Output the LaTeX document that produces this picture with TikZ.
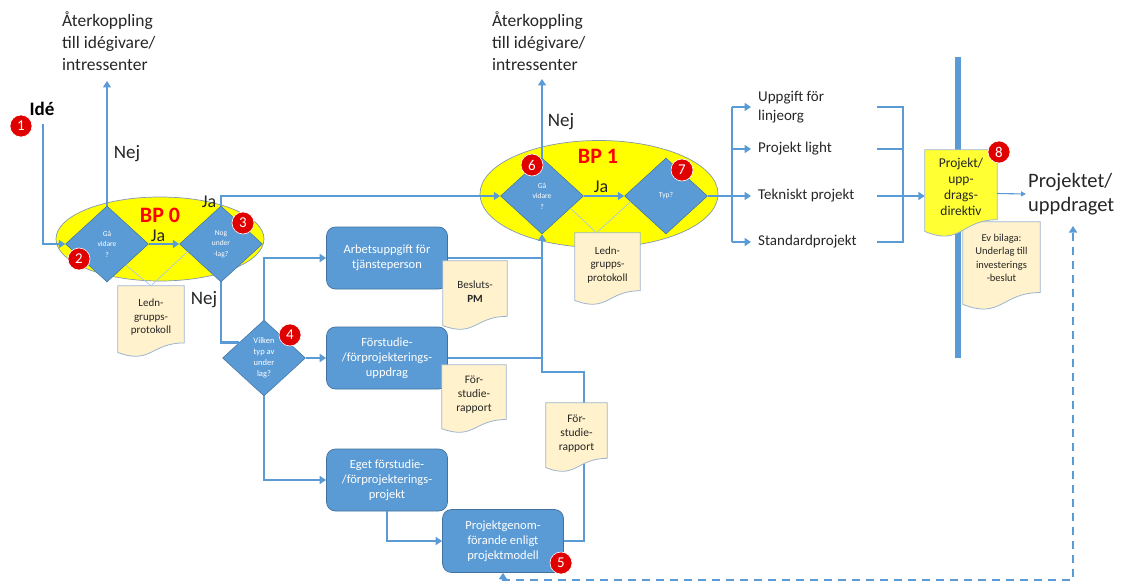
\documentclass[tikz,border=0pt]{standalone}
\usepackage{fontspec}
\setmainfont{Carlito}
\usetikzlibrary{arrows.meta,shapes.geometric,calc}

\definecolor{flow}{HTML}{5B9BD5}
\definecolor{flowdark}{HTML}{41719C}
\definecolor{paper}{HTML}{FFF2CC}
\definecolor{paperline}{HTML}{9DB4CF}
\definecolor{bpyellow}{HTML}{FFFF00}
\definecolor{bpline}{HTML}{8497B0}
\definecolor{marker}{HTML}{E00000}
\definecolor{faintblue}{HTML}{A9C8E8}
\definecolor{ink}{HTML}{262626}
\definecolor{dirfill}{HTML}{FFFF33}

\newcommand\fs[2]{\fontsize{#1}{#2}\selectfont}

% document symbol with a wavy lower edge
% #1 name, #2 x, #3 y, #4 width, #5 height, #6 fill, #7 font, #8 text, #9 text lift
\newcommand\paperdoc[9]{%
  \node[inner sep=0pt, minimum width=#4pt, minimum height=#5pt] (#1) at (#2,#3) {};
  \path[draw=paperline, fill=#6, line width=0.8pt]
    let \p1=(#1.north west), \p2=(#1.south east) in
    (\p1) -- (\x2,\y1) -- (\x2,{\y1+0.8*(\y2-\y1)})
    .. controls ({0.5*(\x1+\x2)},{\y1+0.8*(\y2-\y1)}) and ({0.5*(\x1+\x2)},{\y1+1.107*(\y2-\y1)})
    .. (\x1,{\y1+0.934*(\y2-\y1)}) -- cycle;
  \node[align=center, text=ink, inner sep=0pt, font=#7] at ([yshift=#9pt]#1.center) {#8};
}

\tikzset{
  conn/.style={draw=flow, line width=2.8pt},
  arr/.style={conn, -{Triangle[width=8pt,length=6.5pt]}},
  thinarr/.style={draw=flow, line width=1.1pt, -{Triangle[width=5pt,length=5pt]}},
  backarr/.style={conn, dash pattern=on 8pt off 6pt,
    {Triangle[width=8pt,length=6.5pt]}-{Triangle[width=8pt,length=6.5pt]}},
  faintline/.style={draw=faintblue, line width=0.7pt},
  bp/.style={ellipse, fill=bpyellow, draw=bpline, line width=0.7pt, inner sep=0pt},
  bptitle/.style={text=red, font=\fs{22}{22}\bfseries, inner sep=0pt},
  decision/.style={diamond, fill=flow, draw=flowdark, line width=0.5pt, inner sep=0pt,
    minimum width=83pt, minimum height=76pt, text=white, align=center, font=\fs{7.5}{10.5}},
  task/.style={rectangle, rounded corners=9pt, fill=flow, draw=flowdark, line width=0.7pt,
    minimum width=121pt, minimum height=62pt, text=white, align=center, font=\fs{12.5}{15}},
  badge/.style={circle, fill=marker, draw=white, line width=0.6pt, minimum size=22pt,
    inner sep=0pt, text=white, font=\fs{15}{15}},
  tag/.style={text=ink, inner sep=0pt},
  answer/.style={tag, font=\fs{19}{19}},
  feedback/.style={tag, anchor=north west, align=left, font=\fs{17.5}{22}},
  choice/.style={tag, anchor=west, align=left, inner xsep=7pt, font=\fs{15}{19}},
}

\begin{document}
\begin{tikzpicture}[x=1pt,y=-1pt]
\useasboundingbox (0,0) rectangle (1126,583);

% decision points BP 0 and BP 1
\node[bp, minimum width=208pt, minimum height=84pt] (bp0) at (160,239) {};
\node[bp, minimum width=238pt, minimum height=107pt] (bp1) at (599,194) {};

\node[decision] (d2) at (107,244) {Gå\\vidare\\?};
\node[decision] (d3) at (221,244) {Nog\\under\\-lag?};
\node[decision, font=\fs{8.5}{11}] (d4) at (264,358) {Vilken\\typ av\\under\\lag?};
\node[decision] (d6) at (542,196) {Gå\\vidare\\?};
\node[decision] (d7) at (666,196) {Typ?};

\node[bptitle] (bp0t) at (160,215) {BP 0};
\node[bptitle] (bp1t) at (598,156) {BP 1};

% work packages
\node[task] (arb) at (387,258) {Arbetsuppgift för\\tjänsteperson};
\node[task] (fstu) at (387,358) {Förstudie-\\/förprojekterings-\\uppdrag};
\node[task] (eget) at (387,480) {Eget förstudie-\\/förprojekterings-\\projekt};
\node[task, minimum height=63pt] (pgen) at (503,541) {Projektgenom-\\förande enligt\\projektmodell};

% texts
\node[feedback] (fbt1) at (62,11) {Återkoppling\\till idégivare/\\intressenter};
\node[feedback] (fbt2) at (492,11) {Återkoppling\\till idégivare/\\intressenter};
\coordinate (fb1) at (107,81);
\coordinate (fb2) at (542,79);

\node[tag, text=black, font=\fs{19}{19}\bfseries] (idea) at (42,109) {Idé};
\coordinate (ideastart) at (43,124);

\node[answer] (nej1) at (127,154) {Nej};
\node[answer] (nej2) at (561,122) {Nej};
\node[answer] (nej3) at (204,300) {Nej};
\node[answer, font=\fs{18}{18}] (ja1) at (158,236) {Ja};
\node[answer, font=\fs{18}{18}] (ja2) at (209,202) {Ja};
\node[answer, font=\fs{18}{18}] (ja3) at (601,187) {Ja};

\node[choice] (o1) at (751,107) {Uppgift för\\linjeorg};
\node[choice] (o2) at (751,149) {Projekt light};
\node[choice] (o3) at (751,196) {Tekniskt projekt};
\node[choice] (o4) at (751,242) {Standardprojekt};

\node[tag, anchor=west, align=left, inner sep=2pt, font=\fs{20.5}{24.5}] (res) at (1026,194) {Projektet/\\uppdraget};

% connectors
\draw[arr] (ideastart) |- (d2.west);
\draw[arr] (d2.north) -- (fb1);
\draw[arr] (d2.east) -- (d3.west);
\draw[arr] (d3.north) |- (d6.west);
\draw[conn] (d3.south) |- ($(d4.west)!0.4!(d4.north)$);
\draw[arr] (d4.north) |- (arb.west);
\draw[arr] (d4.east) -- (fstu.west);
\draw[arr] (d4.south) |- (eget.west);
\draw[arr] (eget.south) |- (pgen.west);

\coordinate (trunk) at (542,372);
\coordinate (loop) at (584,372);
\draw[conn] (arb.east) -- (arb.east -| trunk);
\draw[conn] (fstu.east) -- (fstu.east -| trunk);
\draw[arr] (pgen.east) -| (loop) -- (trunk) -- (d6.south);

\draw[arr] (d6.north) -- (fb2);
\draw[arr] (d6.east) -- (d7.west);

% split into the kinds of assignment
\coordinate (sp1) at (732,107);
\coordinate (sp4) at (732,242);
\draw[conn] (d7.east) -- (d7.east -| sp1);
\draw[conn] (sp1) -- (sp4);
\draw[arr] (sp1) -- (o1.west);
\draw[arr] (sp1 |- o2.west) -- (o2.west);
\draw[arr] (sp1 |- o3.west) -- (o3.west);
\draw[arr] (sp4) -- (o4.west);

% merge towards the directive
\coordinate (r1) at (877,107);
\coordinate (r2) at (877,149);
\coordinate (r3) at (877,196);
\coordinate (r4) at (877,242);
\coordinate (rj) at (903,242);
\draw[conn] (r1) -| (rj) -- (r4);
\draw[conn] (r2) -- (r2 -| rj);

% gate
\coordinate (gtop) at (958,57);
\coordinate (gbot) at (958,358);
\draw[draw=flow, line width=6pt] (gtop) -- (gbot);

% return path
\coordinate (dcorner) at (1073,580);
\coordinate (dtop) at (1073,226);
\draw[backarr] (pgen.south) |- (dcorner) -- (dtop);

% documents
\paperdoc{ledn0}{151}{321.5}{66}{71}{paper}{\fs{11}{13.5}}{Ledn-\\grupps-\\protokoll}{4}
\paperdoc{pm}{475}{295.5}{64}{69}{paper}{\fs{11}{13.5}}{Besluts-\\\textbf{PM}}{4}
\paperdoc{rap1}{474}{399}{64}{68}{paper}{\fs{11.5}{14}}{För-\\studie-\\rapport}{4}
\paperdoc{rap2}{576.5}{437.5}{61}{69}{paper}{\fs{11.5}{14}}{För-\\studie-\\rapport}{4}
\paperdoc{ledn1}{607.5}{269}{65}{72}{paper}{\fs{11}{13.5}}{Ledn-\\grupps-\\protokoll}{4}
\paperdoc{ev}{1001.5}{266}{77}{88}{paper}{\fs{10.5}{13.3}}{Ev bilaga:\\Underlag till\\investerings\\-beslut}{8}
\paperdoc{dir}{961}{193.5}{72}{87}{dirfill}{\fs{13.5}{16}}{Projekt/\\upp-\\drags-\\direktiv}{7}

\draw[arr] (r3) -- (r3 -| dir.west);
\draw[thinarr] (dir.east) -- (res.west);

% faint guide lines inside the decision points
\draw[faintline] ($(d2.east)!0.55!(d2.south)$) -- (ledn0.north) -- ($(d3.west)!0.2!(d3.south)$);
\draw[faintline] ($(d6.east)!0.32!(d6.south)$) -- ([xshift=-11pt]ledn1.north) -- ($(d7.west)!0.15!(d7.south)$);

% step numbers
\node[badge] (n1) at (21,126) {1};
\node[badge] (n2) at (79,259) {2};
\node[badge] (n3) at (243,223) {3};
\node[badge] (n4) at (290,335) {4};
\node[badge] (n5) at (561,563) {5};
\node[badge] (n6) at (532,165) {6};
\node[badge] (n7) at (682,170) {7};
\node[badge] (n8) at (999,152) {8};
\end{tikzpicture}
\end{document}
